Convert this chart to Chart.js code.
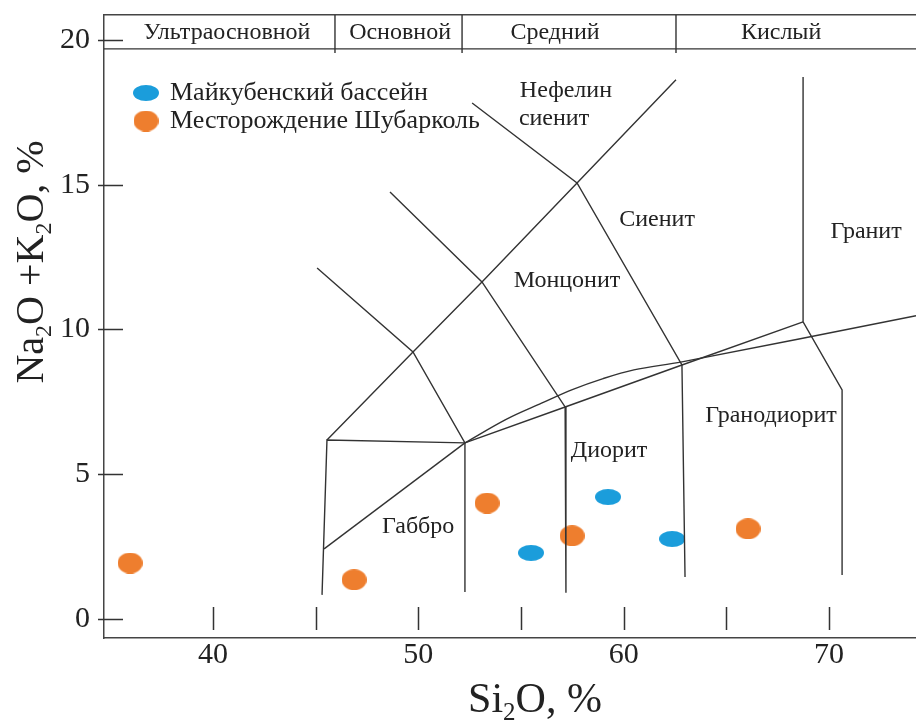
<!DOCTYPE html>
<html>
<head>
<meta charset="utf-8">
<script src="https://cdn.jsdelivr.net/npm/chart.js@4"></script>
<style>
  html, body { margin: 0; padding: 0; background: #fff; }
  #wrap { width: 916px; height: 720px; }
</style>
</head>
<body>
<div id="wrap"><canvas id="tas" width="916" height="720"></canvas></div>
<script>
/* TAS diagram — Na2O+K2O vs SiO2 */

const FONT = '"Liberation Serif", "Times New Roman", serif';
const INK = '#222';
const LINE = '#333';

// ── Samples ─────────────────────────────────────────────
const seriesNames = ['Майкубенский бассейн', 'Месторождение Шубарколь'];
const seriesColors = ['#1B9DDB', '#EE7E2E'];
const maikubenSiO2 = [55.49, 59.24, 62.36];
const maikubenAlk  = [2.28, 4.21, 2.76];
const shubarkolSiO2 = [35.96, 46.87, 53.35, 57.49, 66.06];
const shubarkolAlk  = [1.93, 1.35, 4.00, 2.87, 3.11];

// ── Axes ────────────────────────────────────────────────
const xMin = 34.69, xMax = 74.24;
const yMin = -0.66, yMax = 20.86;
const xTicks = [40, 45, 50, 55, 60, 65, 70];
const yTicks = [0, 5, 10, 15, 20];

// ── Field boundaries [SiO2, alk] ────────────────────────
const lineBasalt   = [[45.31, 0.83], [45.55, 6.18], [52.27, 6.08]];
const lineGabbroTop = [[45.41, 2.42], [52.27, 6.08]];
const lineAlkCurve = [[52.27, 6.08], [54.3, 6.9], [56.0, 7.45], [57.5, 7.92], [59.0, 8.3], [60.5, 8.6], [62.84, 8.88], [74.24, 10.47]];
const lineMain     = [[45.55, 6.18], [49.74, 9.22], [53.10, 11.64], [57.73, 15.06], [62.55, 18.62]];
const lineGabbroR  = [[45.07, 12.12], [49.74, 9.22], [52.27, 6.08], [52.27, 0.93]];
const lineDioriteL = [[48.62, 14.75], [53.10, 11.64], [57.15, 7.32], [57.19, 0.90]];
const lineDioriteR = [[52.62, 17.82], [57.73, 15.06], [62.84, 8.77], [62.99, 1.45]];
const lineSubalk   = [[52.27, 6.08], [57.15, 7.32], [62.84, 8.77], [68.74, 10.26]];
const lineGranite  = [[68.74, 18.72], [68.74, 10.26], [70.64, 7.91], [70.64, 1.52]];

// ── Header strip ────────────────────────────────────────
const groupNames   = ['Ультраосновной', 'Основной', 'Средний', 'Кислый'];
const groupCenters = [40.68, 49.11, 56.66, 67.67];
const groupBounds  = [45.94, 52.13, 62.55];
const headerBase = 19.69, headerLabelY = 20.24, dividerLow = 19.55;

// ── Rock names ──────────────────────────────────────────
const rockNames = ['Нефелин', 'сиенит', 'Сиенит', 'Гранит', 'Монцонит', 'Диорит', 'Гранодиорит', 'Габбро'];
const rockX = [57.19, 56.61, 61.63, 71.81, 57.24, 59.29, 67.18, 49.99];
const rockY = [18.24, 17.27, 13.78, 13.37, 11.68, 5.80, 7.01, 3.18];

function toXY(arr) { return arr.map(p => ({ x: p[0], y: p[1] })); }

function ellipseMarker(color, w, h) {
  const c = document.createElement('canvas');
  c.width = w; c.height = h;
  const g = c.getContext('2d');
  g.fillStyle = color;
  g.beginPath();
  g.ellipse(w / 2, h / 2, w / 2, h / 2, 0, 0, Math.PI * 2);
  g.fill();
  return c;
}
const markers = [ellipseMarker(seriesColors[0], 26, 16), ellipseMarker(seriesColors[1], 25, 21)];

function boundary(points, extra) {
  return Object.assign({
    data: toXY(points),
    showLine: true,
    borderColor: LINE,
    borderWidth: 1.4,
    pointRadius: 0,
    fill: false,
    order: 0
  }, extra || {});
}

const datasets = [
  boundary(lineBasalt),
  boundary(lineGabbroTop),
  boundary(lineAlkCurve, { tension: 0.35 }),
  boundary(lineMain),
  boundary(lineGabbroR),
  boundary(lineDioriteL),
  boundary(lineDioriteR),
  boundary(lineSubalk),
  boundary(lineGranite),
  boundary([[xMin, headerBase], [xMax, headerBase]]),
  ...groupBounds.map(b => boundary([[b, yMax], [b, dividerLow]])),
  {
    label: seriesNames[0],
    data: maikubenSiO2.map((v, i) => ({ x: v, y: maikubenAlk[i] })),
    pointStyle: markers[0], pointRadius: 10, order: 1
  },
  {
    label: seriesNames[1],
    data: shubarkolSiO2.map((v, i) => ({ x: v, y: shubarkolAlk[i] })),
    pointStyle: markers[1], pointRadius: 10, order: 1
  }
];

// draw text with subscripts, centred on (0, baseline 0)
function drawRich(ctx, parts, size) {
  const subSize = Math.round(size * 0.6);
  const widths = parts.map(([t, sub]) => {
    ctx.font = `${sub ? subSize : size}px ${FONT}`;
    return ctx.measureText(t).width;
  });
  let cx = -widths.reduce((a, b) => a + b, 0) / 2;
  parts.forEach(([t, sub], i) => {
    ctx.font = `${sub ? subSize : size}px ${FONT}`;
    ctx.fillText(t, cx, sub ? size * 0.2 : 0);
    cx += widths[i];
  });
}

const tasDecor = {
  id: 'tasDecor',
  afterDraw(chart) {
    const { ctx, chartArea: a, scales: { x, y } } = chart;
    ctx.save();

    // inner tick marks
    ctx.strokeStyle = LINE;
    ctx.lineWidth = 1.5;
    ctx.beginPath();
    yTicks.forEach(v => {
      const py = Math.round(y.getPixelForValue(v)) + 0.5;
      ctx.moveTo(a.left - 6, py); ctx.lineTo(a.left + 19, py);
    });
    xTicks.forEach(v => {
      const px = Math.round(x.getPixelForValue(v)) + 0.5;
      ctx.moveTo(px, a.bottom - 31); ctx.lineTo(px, a.bottom - 8);
    });
    ctx.stroke();

    ctx.fillStyle = INK;
    ctx.textBaseline = 'middle';
    ctx.textAlign = 'center';

    // header labels
    ctx.font = `24px ${FONT}`;
    groupNames.forEach((n, i) => {
      ctx.fillText(n, x.getPixelForValue(groupCenters[i]), y.getPixelForValue(headerLabelY));
    });

    // rock field names
    rockNames.forEach((n, i) => {
      ctx.fillText(n, x.getPixelForValue(rockX[i]), y.getPixelForValue(rockY[i]));
    });

    // legend
    ctx.textAlign = 'left';
    ctx.font = `26px ${FONT}`;
    seriesNames.forEach((n, i) => {
      const ly = 93 + i * 28;
      const m = markers[i];
      ctx.drawImage(m, 146 - m.width / 2, ly - m.height / 2);
      ctx.fillText(n, 170, ly);
    });

    // axis titles
    ctx.textBaseline = 'alphabetic';
    ctx.save();
    ctx.translate(535, 712);
    drawRich(ctx, [['Si', 0], ['2', 1], ['O, %', 0]], 42);
    ctx.restore();

    ctx.save();
    ctx.translate(43, 262);
    ctx.rotate(-Math.PI / 2);
    drawRich(ctx, [['Na', 0], ['2', 1], ['O +K', 0], ['2', 1], ['O, %', 0]], 40);
    ctx.restore();

    ctx.restore();
  }
};

new Chart(document.getElementById('tas'), {
  type: 'scatter',
  data: { datasets },
  options: {
    responsive: false,
    animation: false,
    devicePixelRatio: 1,
    layout: { autoPadding: false, padding: { top: 15, left: 0, right: 0, bottom: 0 } },
    plugins: { legend: { display: false }, tooltip: { enabled: false } },
    scales: {
      x: {
        type: 'linear', position: 'bottom', min: xMin, max: xMax,
        afterBuildTicks: s => { s.ticks = xTicks.map(v => ({ value: v })); },
        afterFit: s => { s.height = 82; s.paddingLeft = 0; s.paddingRight = 0; },
        ticks: {
          callback: v => (v % 10 === 0 ? String(v) : ''),
          font: { family: FONT, size: 30 }, color: INK,
          padding: -1, maxRotation: 0, autoSkip: false
        },
        grid: { drawOnChartArea: false, drawTicks: false },
        border: { display: true, color: '#444', width: 1.5 }
      },
      xTop: {
        type: 'linear', axis: 'x', position: 'top', min: xMin, max: xMax,
        ticks: { display: false },
        afterFit: s => { s.height = 0; s.paddingLeft = 0; s.paddingRight = 0; },
        grid: { drawOnChartArea: false, drawTicks: false },
        border: { display: true, color: '#444', width: 1.5 }
      },
      y: {
        type: 'linear', position: 'left', min: yMin, max: yMax,
        afterBuildTicks: s => { s.ticks = yTicks.map(v => ({ value: v })); },
        afterFit: s => { s.width = 104; s.paddingTop = 0; s.paddingBottom = 0; },
        ticks: {
          font: { family: FONT, size: 30 }, color: INK,
          padding: 14, autoSkip: false
        },
        grid: { drawOnChartArea: false, drawTicks: false },
        border: { display: true, color: '#444', width: 1.5 }
      }
    }
  },
  plugins: [tasDecor]
});
</script>
</body>
</html>
